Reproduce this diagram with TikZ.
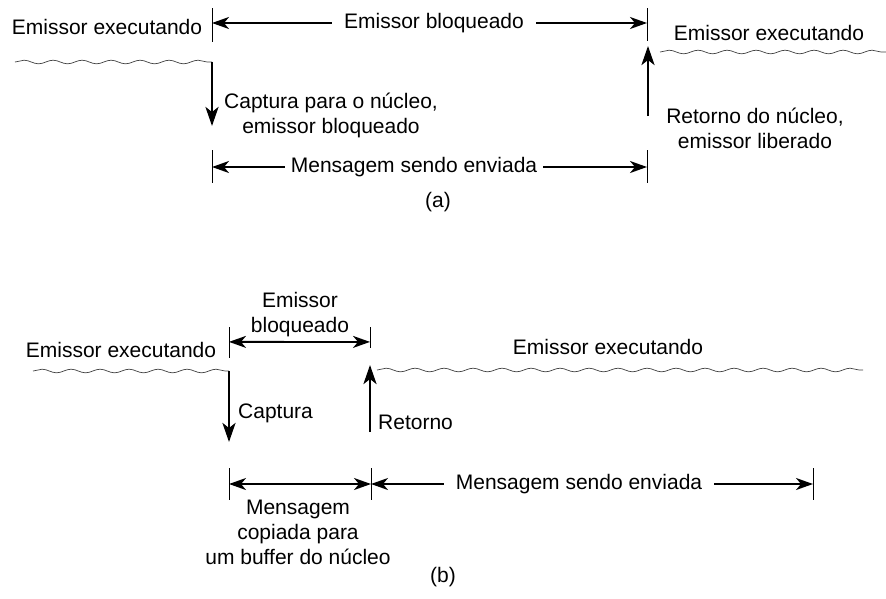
\documentclass[tikz,border=0pt]{standalone}
\usepackage{fontspec}
\setmainfont{Liberation Sans}
\usetikzlibrary{calc, arrows.meta, decorations.pathmorphing}

\tikzset{
  lbl/.style={font=\fontsize{21}{25}\selectfont, inner sep=3pt, align=center},
  gap/.style={inner xsep=12pt},
  tick/.style={line width=1pt},
  harrow/.style={line width=1.8pt, -{Stealth[length=17pt,width=12pt,inset=5pt]}},
  darrow/.style={line width=1.8pt, {Stealth[length=17pt,width=12pt,inset=5pt]}-{Stealth[length=17pt,width=12pt,inset=5pt]}},
  varrow/.style={line width=2.8pt, -{Stealth[length=19pt,width=13pt,inset=5pt]}},
  wave/.style={black!75, line width=0.7pt, decorate,
    decoration={snake, segment length=29pt, amplitude=1.8pt}}
}

\begin{document}
\begin{tikzpicture}[x=1pt,y=-1pt]
\useasboundingbox (0,0) rectangle (886,598);

\coordinate (ta1) at (212,8);
\coordinate (ta1b) at (212,42);
\coordinate (ta2) at (647,8);
\coordinate (ta2b) at (647,41);
\coordinate (wa1) at (15,62);
\coordinate (wa1b) at (212,62);
\coordinate (wa2) at (660,52);
\coordinate (wa2b) at (886,52);
\coordinate (trapA) at (212,126);
\coordinate (retA) at (648,116);
\coordinate (retAb) at (648,46);
\coordinate (ma1) at (212,150);
\coordinate (ma1b) at (212,183);
\coordinate (ma2) at (647,150);
\coordinate (ma2b) at (647,183);

\draw[tick] (ta1) -- (ta1b);
\draw[tick] (ta2) -- (ta2b);
\draw[tick] (ma1) -- (ma1b);
\draw[tick] (ma2) -- (ma2b);
\draw[wave] (wa1) -- (wa1b);
\draw[wave] (wa2) -- (wa2b);

\node[lbl] (runA1) at (107,27) {Emissor executando};
\node[lbl] (runA2) at (769,33) {Emissor executando};
\node[lbl, gap] (blockA) at (434,23) {Emissor bloqueado};
\draw[harrow] (blockA.west) -- (blockA.west -| ta1);
\draw[harrow] (blockA.east) -- (blockA.east -| ta2);

\draw[varrow] (wa1b) -- (trapA);
\node[lbl] (trapAtxt) at (331,115) {Captura para o núcleo,\\emissor bloqueado};
\draw[varrow] (retA) -- (retAb);
\node[lbl] (retAtxt) at (755,128) {Retorno do núcleo,\\emissor liberado};

\node[lbl, inner xsep=6pt] (msgA) at (414,167) {Mensagem sendo enviada};
\draw[harrow] (msgA.west) -- (msgA.west -| ma1);
\draw[harrow] (msgA.east) -- (msgA.east -| ma2);
\node[lbl] (capA) at (438,202) {(a)};

\coordinate (tb1) at (229,327);
\coordinate (tb1b) at (229,358);
\coordinate (tb2) at (370,327);
\coordinate (tb2b) at (370,348);
\coordinate (wb1) at (33,371);
\coordinate (wb1b) at (229,371);
\coordinate (wb2) at (377,370);
\coordinate (wb2b) at (863,370);
\coordinate (trapB) at (229,442);
\coordinate (retB) at (370,432);
\coordinate (retBb) at (370,365);
\coordinate (mb1) at (229,468);
\coordinate (mb1b) at (229,500);
\coordinate (mb2) at (371,468);
\coordinate (mb2b) at (371,500);
\coordinate (mb3) at (813,468);
\coordinate (mb3b) at (813,500);

\draw[tick] (tb1) -- (tb1b);
\draw[tick] (tb2) -- (tb2b);
\draw[tick] (mb1) -- (mb1b);
\draw[tick] (mb2) -- (mb2b);
\draw[tick] (mb3) -- (mb3b);
\draw[wave] (wb1) -- (wb1b);
\draw[wave] (wb2) -- (wb2b);

\node[lbl] (runB1) at (121,350) {Emissor executando};
\node[lbl] (runB2) at (608,347) {Emissor executando};
\node[lbl] (blockB) at (300,315) {Emissor\\bloqueado};
\draw[darrow] ($(tb1)!0.48!(tb1b)$) -- ($(tb2)!0.71!(tb2b)$);

\draw[varrow] (wb1b) -- (trapB);
\node[lbl, anchor=west] (trapBtxt) at (235,413) {Captura};
\draw[varrow] (retB) -- (retBb);
\node[lbl, anchor=west] (retBtxt) at (375,422) {Retorno};

\draw[darrow] ($(mb1)!0.5!(mb1b)$) -- ($(mb2)!0.5!(mb2b)$);
\node[lbl, gap] (msgB) at (579,484) {Mensagem sendo enviada};
\draw[harrow] (msgB.west) -- (msgB.west -| mb2);
\draw[harrow] (msgB.east) -- (msgB.east -| mb3);
\node[lbl, inner ysep=0pt] (copyB) at (298,532) {Mensagem\\copiada para\\um buffer do núcleo};
\node[lbl] (capB) at (443,577) {(b)};
\end{tikzpicture}
\end{document}
